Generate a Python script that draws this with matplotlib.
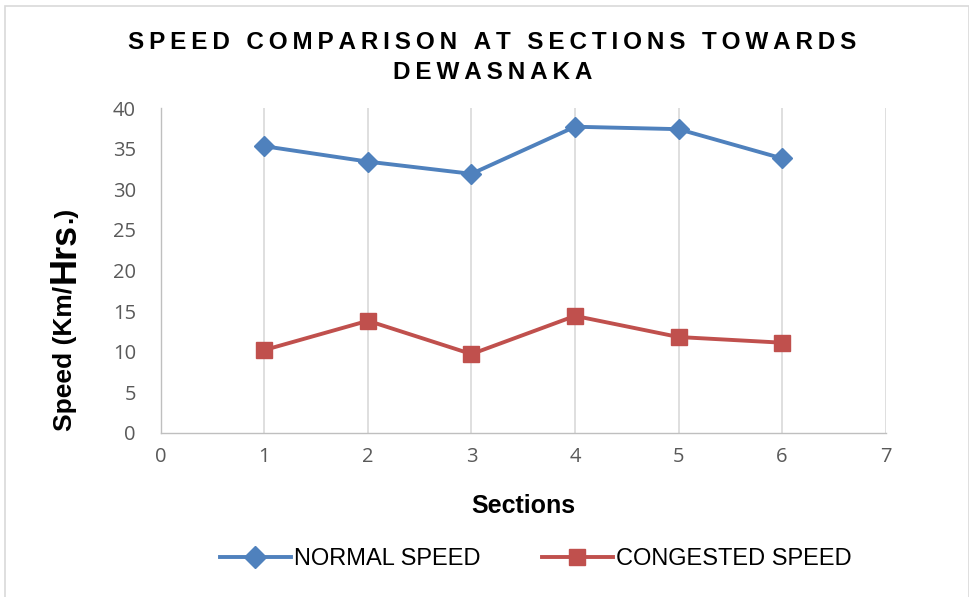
import matplotlib
matplotlib.use("Agg")
import matplotlib.pyplot as plt
from matplotlib.patches import Rectangle

sections = [1, 2, 3, 4, 5, 6]
normal_speed = [35.3, 33.4, 31.9, 37.7, 37.4, 33.8]
congested_speed = [10.2, 13.8, 9.7, 14.4, 11.8, 11.1]
x_ticks = [0, 1, 2, 3, 4, 5, 6, 7]
y_ticks = [0, 5, 10, 15, 20, 25, 30, 35, 40]

title = "SPEED COMPARISON AT SECTIONS TOWARDS\nDEWASNAKA"

fig = plt.figure(figsize=(9.69, 5.97), dpi=100)
fig.patches.append(Rectangle((0.005, -0.01), 0.995, 1.0, transform=fig.transFigure,
                             fill=False, edgecolor="#d9d9d9", linewidth=1.2))
ax = fig.add_axes([0.166, 0.275, 0.748, 0.544])

ax.plot(sections, normal_speed, color="#4F81BD", linewidth=2.8, marker="D",
        markersize=10, label="NORMAL SPEED")
ax.plot(sections, congested_speed, color="#C0504D", linewidth=2.8, marker="s",
        markersize=11, label="CONGESTED SPEED")

ax.set_xlim(0, 7)
ax.set_ylim(0, 40)
ax.set_xticks(x_ticks)
ax.set_yticks(y_ticks)
ax.grid(axis="x", color="#d9d9d9", linewidth=1.2)
ax.set_axisbelow(True)
for s in ["top", "right"]:
    ax.spines[s].set_visible(False)
for s in ["left", "bottom"]:
    ax.spines[s].set_color("#bfbfbf")
    ax.spines[s].set_linewidth(1.0)
ax.tick_params(axis="y", length=0, labelsize=14.5, labelcolor="#595959", pad=18)
ax.tick_params(axis="x", length=0, labelsize=14.5, labelcolor="#595959", pad=10)
for lab in ax.get_xticklabels() + ax.get_yticklabels():
    lab.set_family("Open Sans")

def spaced(s):
    return "\n".join("\u2009".join(line) for line in s.split("\n"))

fig.text(0.508, 0.948, spaced(title), ha="center", va="top", fontsize=17.5,
         fontweight="bold", family=["Liberation Sans", "DejaVu Sans"],
         linespacing=1.4)

ax.set_xlabel("Sections", fontsize=18, fontweight="bold",
              family="Liberation Sans", labelpad=20)

t1 = fig.text(0.067, 0.278, "Speed (Km/", rotation=90, ha="center", va="bottom",
              fontsize=19, fontweight="bold", family="Liberation Sans")
t2 = ax.annotate("Hrs", xy=(0.5, 1.0), xycoords=t1, xytext=(0, 2),
                 textcoords="offset points", rotation=90, ha="center",
                 va="bottom", fontsize=26, fontweight="bold", family="Liberation Sans")
t3 = ax.annotate(".)", xy=(0.5, 1.0), xycoords=t2, rotation=90, ha="center",
                 va="bottom", fontsize=19, fontweight="bold", family="Liberation Sans")

leg = fig.legend(loc="center", bbox_to_anchor=(0.553, 0.063), ncol=2, frameon=False,
                 prop={"family": "Liberation Sans", "size": 17}, handlelength=3.0,
                 columnspacing=2.6, handletextpad=0.15, markerscale=1.1)

fig.savefig("out.png", dpi=100)
